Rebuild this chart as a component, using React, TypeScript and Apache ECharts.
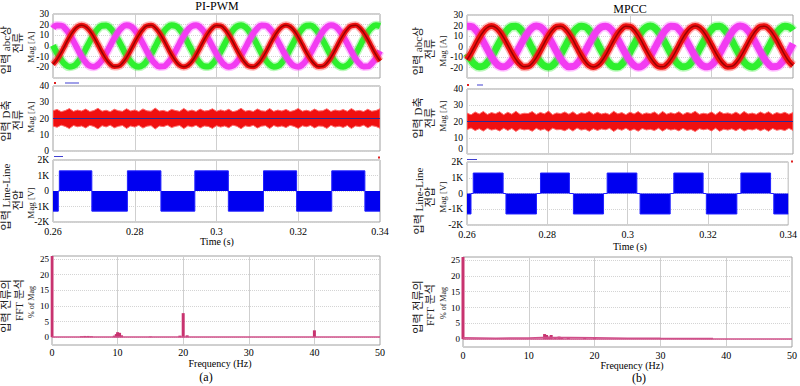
import { useEffect, useRef } from 'react';
import * as echarts from 'echarts';

// ---- sampling of time-domain traces ----
const T0 = 0.26;
const DT = 0.001;

// ---- (a) PI-PWM : input abc phase currents [A] (read every 1 ms) ----
const abcRedLeft = [
  -17.2, -12.5, -6.2, 1.1, 8.2, 14.1, 18.1, 19.5, 18.2, 14.3,
  8.4, 1.4, -5.9, -12.3, -17.0, -19.3, -18.9, -15.9, -10.6, -3.8,
  3.5, 10.3, 15.7, 18.9, 19.4, 17.2, 12.5, 6.2, -1.1, -8.2,
  -14.1, -18.1, -19.5, -18.2, -14.3, -8.4, -1.4, 5.9, 12.3, 17.0,
  19.3, 18.9, 15.9, 10.6, 3.8, -3.5, -10.3, -15.7, -18.9, -19.4,
  -17.2, -12.5, -6.2, 1.1, 8.2, 14.1, 18.1, 19.5, 18.2, 14.3,
  8.4, 1.4, -5.9, -12.3, -17.0, -19.3, -18.9, -15.9, -10.6, -3.8,
  3.5, 10.3, 15.7, 18.9, 19.4, 17.2, 12.5, 6.2, -1.1, -8.2, -14.1,
];
const abcGreenLeft = [
  0.6, -6.7, -12.9, -17.4, -19.4, -18.7, -15.4, -9.9, -3.0, 4.3,
  11.0, 16.2, 19.0, 19.3, 16.8, 11.9, 5.4, -1.9, -8.9, -14.7,
  -18.4, -19.5, -17.9, -13.7, -7.7, -0.6, 6.7, 12.9, 17.4, 19.4,
  18.7, 15.4, 9.9, 3.0, -4.3, -11.0, -16.2, -19.0, -19.3, -16.8,
  -11.9, -5.4, 1.9, 8.9, 14.7, 18.4, 19.5, 17.9, 13.7, 7.7,
  0.6, -6.7, -12.9, -17.4, -19.4, -18.7, -15.4, -9.9, -3.0, 4.3,
  11.0, 16.2, 19.0, 19.3, 16.8, 11.9, 5.4, -1.9, -8.9, -14.7,
  -18.4, -19.5, -17.9, -13.7, -7.7, -0.6, 6.7, 12.9, 17.4, 19.4, 18.7,
];
const abcMagentaLeft = [
  16.6, 19.2, 19.1, 16.3, 11.3, 4.6, -2.7, -9.6, -15.2, -18.6,
  -19.4, -17.5, -13.2, -6.9, 0.3, 7.4, 13.5, 17.8, 19.5, 18.5,
  14.9, 9.2, 2.2, -5.1, -11.7, -16.6, -19.2, -19.1, -16.3, -11.3,
  -4.6, 2.7, 9.6, 15.2, 18.6, 19.4, 17.5, 13.2, 6.9, -0.3,
  -7.4, -13.5, -17.8, -19.5, -18.5, -14.9, -9.2, -2.2, 5.1, 11.7,
  16.6, 19.2, 19.1, 16.3, 11.3, 4.6, -2.7, -9.6, -15.2, -18.6,
  -19.4, -17.5, -13.2, -6.9, 0.3, 7.4, 13.5, 17.8, 19.5, 18.5,
  14.9, 9.2, 2.2, -5.1, -11.7, -16.6, -19.2, -19.1, -16.3, -11.3, -4.6,
];

// ---- (b) MPCC : input abc phase currents [A] ----
const abcRedRight = [
  -12.5, -6.2, 1.1, 8.2, 14.1, 18.1, 19.5, 18.2, 14.3, 8.4,
  1.4, -5.9, -12.3, -17.0, -19.3, -18.9, -15.9, -10.6, -3.8, 3.5,
  10.3, 15.7, 18.9, 19.4, 17.2, 12.5, 6.2, -1.1, -8.2, -14.1,
  -18.1, -19.5, -18.2, -14.3, -8.4, -1.4, 5.9, 12.3, 17.0, 19.3,
  18.9, 15.9, 10.6, 3.8, -3.5, -10.3, -15.7, -18.9, -19.4, -17.2,
  -12.5, -6.2, 1.1, 8.2, 14.1, 18.1, 19.5, 18.2, 14.3, 8.4,
  1.4, -5.9, -12.3, -17.0, -19.3, -18.9, -15.9, -10.6, -3.8, 3.5,
  10.3, 15.7, 18.9, 19.4, 17.2, 12.5, 6.2, -1.1, -8.2, -14.1, -18.1,
];
const abcGreenRight = [
  -6.7, -12.9, -17.4, -19.4, -18.7, -15.4, -9.9, -3.0, 4.3, 11.0,
  16.2, 19.0, 19.3, 16.8, 11.9, 5.4, -1.9, -8.9, -14.7, -18.4,
  -19.5, -17.9, -13.7, -7.7, -0.6, 6.7, 12.9, 17.4, 19.4, 18.7,
  15.4, 9.9, 3.0, -4.3, -11.0, -16.2, -19.0, -19.3, -16.8, -11.9,
  -5.4, 1.9, 8.9, 14.7, 18.4, 19.5, 17.9, 13.7, 7.7, 0.6,
  -6.7, -12.9, -17.4, -19.4, -18.7, -15.4, -9.9, -3.0, 4.3, 11.0,
  16.2, 19.0, 19.3, 16.8, 11.9, 5.4, -1.9, -8.9, -14.7, -18.4,
  -19.5, -17.9, -13.7, -7.7, -0.6, 6.7, 12.9, 17.4, 19.4, 18.7, 15.4,
];
const abcMagentaRight = [
  19.2, 19.1, 16.3, 11.3, 4.6, -2.7, -9.6, -15.2, -18.6, -19.4,
  -17.5, -13.2, -6.9, 0.3, 7.4, 13.5, 17.8, 19.5, 18.5, 14.9,
  9.2, 2.2, -5.1, -11.7, -16.6, -19.2, -19.1, -16.3, -11.3, -4.6,
  2.7, 9.6, 15.2, 18.6, 19.4, 17.5, 13.2, 6.9, -0.3, -7.4,
  -13.5, -17.8, -19.5, -18.5, -14.9, -9.2, -2.2, 5.1, 11.7, 16.6,
  19.2, 19.1, 16.3, 11.3, 4.6, -2.7, -9.6, -15.2, -18.6, -19.4,
  -17.5, -13.2, -6.9, 0.3, 7.4, 13.5, 17.8, 19.5, 18.5, 14.9,
  9.2, 2.2, -5.1, -11.7, -16.6, -19.2, -19.1, -16.3, -11.3, -4.6, 2.7,
];

// ---- D-axis current ripple envelope [A] ----
const dUpLeft = [
  24.8, 25.6, 24.2, 24.9, 26.1, 24.4, 25.2, 24.6, 25.8, 24.3,
  24.9, 26.3, 24.5, 25.1, 24.2, 25.7, 24.8, 24.4, 26.0, 24.6,
  25.3, 24.3, 25.9, 24.7, 24.5, 26.4, 24.6, 25.0, 24.2, 25.6,
  24.9, 24.4, 26.2, 24.5, 25.2, 24.3, 25.8, 24.6, 24.9, 26.0,
  24.4, 25.3, 24.6, 25.7, 24.2, 24.8, 26.3, 24.5, 25.0, 24.3,
  25.9, 24.7, 24.5, 26.1, 24.4, 25.2, 24.6, 25.6, 24.3, 24.9,
  26.2, 24.5, 25.1, 24.4, 25.8, 24.6, 24.8, 26.0, 24.3, 25.3,
  24.7, 25.5, 24.4, 26.1, 24.6, 25.0, 24.3, 25.7, 24.5, 24.9, 26.0,
];
const dLoLeft = [
  15.3, 14.6, 15.9, 15.1, 13.8, 15.7, 14.9, 15.4, 14.2, 15.8,
  15.1, 13.6, 15.6, 14.8, 15.9, 14.3, 15.2, 15.7, 13.9, 15.4,
  14.7, 15.8, 14.1, 15.3, 15.6, 13.5, 15.4, 15.0, 15.9, 14.4,
  15.2, 15.7, 13.8, 15.5, 14.8, 15.8, 14.2, 15.4, 15.1, 13.9,
  15.6, 14.7, 15.4, 14.3, 15.9, 15.2, 13.7, 15.5, 15.0, 15.8,
  14.1, 15.3, 15.6, 13.8, 15.7, 14.8, 15.4, 14.4, 15.8, 15.1,
  13.9, 15.5, 14.9, 15.7, 14.2, 15.4, 15.2, 13.9, 15.8, 14.7,
  15.3, 14.5, 15.7, 13.8, 15.4, 15.0, 15.9, 14.3, 15.6, 15.1, 14.0,
];
const dUpRight = [
  25.2, 24.1, 25.9, 24.6, 26.2, 24.3, 25.5, 24.8, 26.0, 24.2,
  25.7, 24.5, 26.3, 24.4, 25.1, 24.9, 26.1, 24.3, 25.6, 24.7,
  26.4, 24.2, 25.3, 24.8, 25.9, 24.5, 26.0, 24.1, 25.4, 24.9,
  26.2, 24.4, 25.7, 24.6, 25.2, 24.3, 26.3, 24.7, 25.5, 24.2,
  25.8, 24.6, 26.1, 24.4, 25.3, 24.8, 25.9, 24.2, 26.2, 24.5,
  25.4, 24.7, 26.0, 24.3, 25.6, 24.9, 26.3, 24.4, 25.1, 24.6,
  25.9, 24.2, 26.1, 24.8, 25.3, 24.5, 25.8, 24.3, 26.2, 24.6,
  25.2, 24.4, 25.9, 24.7, 26.0, 24.3, 25.5, 24.8, 25.7, 24.4, 25.6,
];
const dLoRight = [
  15.0, 16.0, 14.4, 15.6, 14.1, 15.8, 14.7, 15.3, 14.2, 15.9,
  14.5, 15.7, 13.9, 15.5, 14.8, 15.2, 14.0, 15.8, 14.6, 15.4,
  13.8, 15.9, 14.9, 15.1, 14.3, 15.7, 14.1, 16.0, 14.7, 15.3,
  14.0, 15.6, 14.5, 15.4, 14.9, 15.8, 13.9, 15.5, 14.6, 15.9,
  14.3, 15.4, 14.0, 15.7, 14.8, 15.2, 14.4, 15.9, 14.1, 15.6,
  14.7, 15.3, 14.2, 15.8, 14.5, 15.1, 13.8, 15.6, 14.9, 15.4,
  14.2, 15.9, 14.0, 15.3, 14.7, 15.5, 14.3, 15.8, 14.1, 15.2,
  14.8, 15.6, 14.3, 15.4, 14.0, 15.7, 14.6, 15.1, 14.4, 15.8, 14.5,
];
const D_REF = 20;

// ---- line-line voltage: switching instants [s] and levels [V] ----
const llTimesLeft = [0.26, 0.2613, 0.26155, 0.2695, 0.2782, 0.2864, 0.2947, 0.3029, 0.3115, 0.3196, 0.3282, 0.3363, 0.34];
const llLevelsLeft = [-1300, 0, 1300, -1300, 1300, -1300, 1300, -1300, 1300, -1300, 1300, -1300, -1300];
const llTimesRight = [0.26, 0.2610, 0.26155, 0.2690, 0.2697, 0.2773, 0.2783, 0.2855, 0.2865, 0.2940, 0.2949, 0.3023, 0.3031, 0.3106, 0.3115, 0.3188, 0.3196, 0.3272, 0.3282, 0.3356, 0.3364, 0.34];
const llLevelsRight = [-1300, 0, 1300, 0, -1300, 0, 1300, 0, -1300, 0, 1300, 0, -1300, 0, 1300, 0, -1300, 0, 1300, 0, -1300, -1300];

// ---- FFT of input current (% of Mag) ----
const fftFreqLeft = [0, 4.5, 5, 5.5, 6, 9.5, 9.8, 10, 10.3, 10.6, 15, 19.5, 20, 20.6, 40];
const fftMagLeft = [30, 0.3, 0.4, 0.4, 0.3, 0.5, 1.0, 1.6, 1.4, 0.6, 0.2, 0.5, 7.7, 0.6, 2.2];
const fftFreqRight = [0, 12.4, 12.7, 13.0, 13.4, 14.0, 14.6, 15.0, 16.0, 18.5, 20.0];
const fftMagRight = [30, 1.6, 1.3, 0.8, 1.3, 0.6, 0.8, 0.5, 0.5, 0.4, 0.3];
const fftRippleFreqRight = [0, 5, 10, 12, 16, 20, 25, 30, 38];
const fftRippleMagRight = [0.4, 0.3, 0.35, 0.5, 0.5, 0.4, 0.3, 0.25, 0.2];

const SERIF = "'Liberation Serif', 'Times New Roman', serif";
const KFONT = "'Liberation Serif', 'Noto Sans CJK KR', sans-serif";

const pts = (arr: number[]) => arr.map((v, i) => [T0 + i * DT, v]);
const pairs = (xs: number[], ys: number[]) => xs.map((x, i) => [x, ys[i]]);

const grids = [
  { left: 53, top: 14, width: 327, height: 64 },
  { left: 53, top: 86, width: 327, height: 65 },
  { left: 53, top: 160, width: 327, height: 62 },
  { left: 52, top: 256, width: 328, height: 89 },
  { left: 467, top: 15, width: 326, height: 63 },
  { left: 467, top: 89, width: 326, height: 65 },
  { left: 467, top: 162, width: 326, height: 63 },
  { left: 463, top: 257, width: 330, height: 90 },
].map((g) => ({ ...g, show: true, borderColor: '#a0a0a0', borderWidth: 1, backgroundColor: '#fff' }));

const vSplit = { show: true, lineStyle: { color: '#cfcfcf', width: 1 } };
const hSplit = { show: true, lineStyle: { color: '#d4d4d4', width: 1, type: 'dotted' } };

const timeX = (gridIndex: number, showLabels: boolean) => ({
  type: 'value', gridIndex, min: 0.26, max: 0.34, interval: 0.02,
  axisLine: { show: false }, axisTick: { show: false },
  axisLabel: { show: showLabels, fontFamily: SERIF, fontSize: 10, color: '#000', margin: showLabels ? 4 : 0 },
  splitLine: vSplit,
});
const freqX = (gridIndex: number, margin: number) => ({
  type: 'value', gridIndex, min: 0, max: 50, interval: 10,
  axisLine: { show: false }, axisTick: { show: false },
  axisLabel: { fontFamily: SERIF, fontSize: 10, color: '#000', margin },
  splitLine: vSplit,
});
const valY = (
  gridIndex: number, min: number, max: number, interval: number,
  fmt?: (v: number) => string, minAlign?: string,
) => ({
  type: 'value', gridIndex, min, max, interval,
  axisLine: { show: false }, axisTick: { show: false },
  axisLabel: {
    fontFamily: SERIF, fontSize: 9.5, color: '#000', margin: 4, formatter: fmt,
    ...(minAlign ? { verticalAlignMinLabel: minAlign } : {}),
  },
  splitLine: hSplit,
});
const kFmt = (v: number) => (v === 0 ? '0' : `${v / 1000}K`);
const fftTicks = [0, 5, 10, 15, 20, 25];
const fftY = (gridIndex: number) => ({
  type: 'value', gridIndex, min: -2.5, max: 26,
  axisLine: { show: false }, axisTick: { show: false, customValues: fftTicks },
  axisLabel: { fontFamily: SERIF, fontSize: 9, color: '#000', margin: 3, customValues: fftTicks },
  splitLine: hSplit,
});

const phase = (g: number, arr: number[], color: string, width: number) => ({
  type: 'line', xAxisIndex: g, yAxisIndex: g, data: pts(arr), symbol: 'none', smooth: true,
  silent: true, lineStyle: { color, width },
});

const abcSeries = (g: number, red: number[], green: number[], mag: number[], w: number) => [
  phase(g, green, 'rgba(60,240,60,0.35)', w + 3),
  phase(g, green, '#2ef02e', w),
  phase(g, mag, 'rgba(255,80,255,0.35)', w + 3),
  phase(g, mag, '#f23cf2', w),
  phase(g, red, 'rgba(255,40,40,0.35)', w + 2),
  phase(g, red, '#ee1111', w - 1),
  phase(g, red, '#990000', 1.5),
];

// ripple band of the D-axis current: polygon between the two envelopes, placed by the axes
const dSeries = (g: number, lo: number[], up: number[]) => [
  {
    type: 'custom', xAxisIndex: g, yAxisIndex: g, silent: true, clip: true,
    data: [[0.3, D_REF]],
    renderItem: (_p: any, api: any) => {
      const top = up.map((v, i) => api.coord([T0 + i * DT, v]));
      const bot = lo.map((v, i) => api.coord([T0 + i * DT, v])).reverse();
      return {
        type: 'polygon',
        shape: { points: top.concat(bot) },
        style: { fill: '#f01010', stroke: '#ff6a6a', lineWidth: 1 },
      };
    },
  },
  {
    type: 'line', xAxisIndex: g, yAxisIndex: g, data: [[0.26, D_REF], [0.34, D_REF]], symbol: 'none', silent: true,
    z: 5, lineStyle: { color: '#2a2a9a', width: 1 },
  },
];

const llSeries = (g: number, ts: number[], lv: number[]) => ({
  type: 'line', xAxisIndex: g, yAxisIndex: g, data: pairs(ts, lv), step: 'end', symbol: 'none', silent: true,
  lineStyle: { color: '#2020ff', width: 1 }, areaStyle: { color: '#0000f0', opacity: 1 },
});

const fftBars = (g: number, fs: number[], ms: number[]) => ({
  type: 'bar', xAxisIndex: g, yAxisIndex: g, data: pairs(fs, ms), barWidth: 3, silent: true,
  itemStyle: { color: '#c8336f' },
  markLine: {
    symbol: 'none', silent: true, label: { show: false },
    lineStyle: { color: '#d0508a', width: 1.5, type: 'solid' },
    data: [{ yAxis: 0 }],
  },
});

const text = (t: string, x: number, y: number, size: number, family = SERIF, rot = 0, fill = '#000') => ({
  type: 'text', x, y, rotation: rot, z: 100, silent: true,
  style: { text: t, fontSize: size, fontFamily: family, fill, align: 'center', verticalAlign: 'middle', textAlign: 'center', textVerticalAlign: 'middle' },
});
const R = Math.PI / 2;
const vlab = (t: string, x: number, y: number, size = 11, fam = KFONT) => text(t, x, y, size, fam, R, '#222');

const mark = (x: number, y: number, w: number, h: number, color: string) => ({
  type: 'rect', z: 100, silent: true, shape: { x, y, width: w, height: h }, style: { fill: color },
});

const graphics = [
  text('PI-PWM', 217, 6, 12),
  text('MPCC', 630, 9, 12),
  text('Time (s)', 217, 241, 10),
  text('Time (s)', 630, 246, 10),
  text('Frequency (Hz)', 220, 363, 10),
  text('Frequency (Hz)', 632, 365, 10),
  text('(a)', 206, 377, 12),
  text('(b)', 639, 378, 12),
  vlab('입력 abc상', 6, 50), vlab('전류', 18, 43), vlab('Mag [A]', 30.5, 47, 9, SERIF),
  vlab('입력 D축', 6, 121), vlab('전류', 18, 120), vlab('Mag [A]', 30.5, 117, 9, SERIF),
  vlab('입력 Line-Line', 6, 197), vlab('전압', 18, 200), vlab('Mag [V]', 30.5, 203, 9, SERIF),
  vlab('입력 전류의', 6, 306), vlab('FFT 분석', 19, 300), vlab('% of Mag', 31, 302, 8, SERIF),
  vlab('입력 abc상', 418, 51), vlab('전류', 430, 49), vlab('Mag [A]', 443, 51, 9, SERIF),
  vlab('입력 D축', 418, 118), vlab('전류', 430, 118), vlab('Mag [A]', 443, 116, 9, SERIF),
  vlab('입력 Line-Line', 419, 201), vlab('전압', 430, 197), vlab('Mag [V]', 443, 197, 9, SERIF),
  vlab('입력 전류의', 418, 307), vlab('FFT 분석', 430, 305), vlab('% of Mag', 443, 303, 8, SERIF),
  mark(54, 82, 2, 2, '#e02020'), mark(65, 82.5, 14, 1, '#4040d0'),
  mark(54, 156, 9, 1, '#4040d0'), mark(378, 156.5, 2, 2, '#e02020'),
  mark(467, 84, 2, 2, '#e02020'), mark(477, 84.5, 6, 1, '#4040d0'),
  mark(467, 159, 10, 1, '#4040d0'), mark(791, 160.5, 2, 2, '#e02020'),
];

const option = {
  animation: false,
  backgroundColor: '#fff',
  grid: grids,
  xAxis: [
    timeX(0, false), timeX(1, false), timeX(2, true), freqX(3, 2),
    timeX(4, false), timeX(5, false), timeX(6, true), freqX(7, 3),
  ],
  yAxis: [
    valY(0, -30, 30, 10, undefined, 'bottom'), valY(1, 0, 40, 10), valY(2, -2000, 2000, 1000, kFmt), fftY(3),
    valY(4, -30, 30, 10, undefined, 'bottom'), valY(5, 0, 40, 10, undefined, 'bottom'), valY(6, -2000, 2000, 1000, kFmt), fftY(7),
  ],
  series: [
    ...abcSeries(0, abcRedLeft, abcGreenLeft, abcMagentaLeft, 6),
    ...dSeries(1, dLoLeft, dUpLeft),
    llSeries(2, llTimesLeft, llLevelsLeft),
    fftBars(3, fftFreqLeft, fftMagLeft),
    ...abcSeries(4, abcRedRight, abcGreenRight, abcMagentaRight, 7),
    ...dSeries(5, dLoRight, dUpRight),
    llSeries(6, llTimesRight, llLevelsRight),
    fftBars(7, fftFreqRight, fftMagRight),
    {
      type: 'line', xAxisIndex: 7, yAxisIndex: 7, data: pairs(fftRippleFreqRight, fftRippleMagRight),
      symbol: 'none', silent: true, lineStyle: { color: '#d0508a', width: 1.5 },
    },
  ],
  graphic: graphics,
};

export default function App() {
  const ref = useRef<HTMLDivElement>(null);
  useEffect(() => {
    const chart = echarts.init(ref.current!, null, { renderer: 'svg' });
    chart.setOption(option as any);
    return () => chart.dispose();
  }, []);
  return (
    <div
      ref={ref}
      style={{ position: 'fixed', left: 0, top: 0, width: 800, height: 386, background: '#fff' }}
    />
  );
}
